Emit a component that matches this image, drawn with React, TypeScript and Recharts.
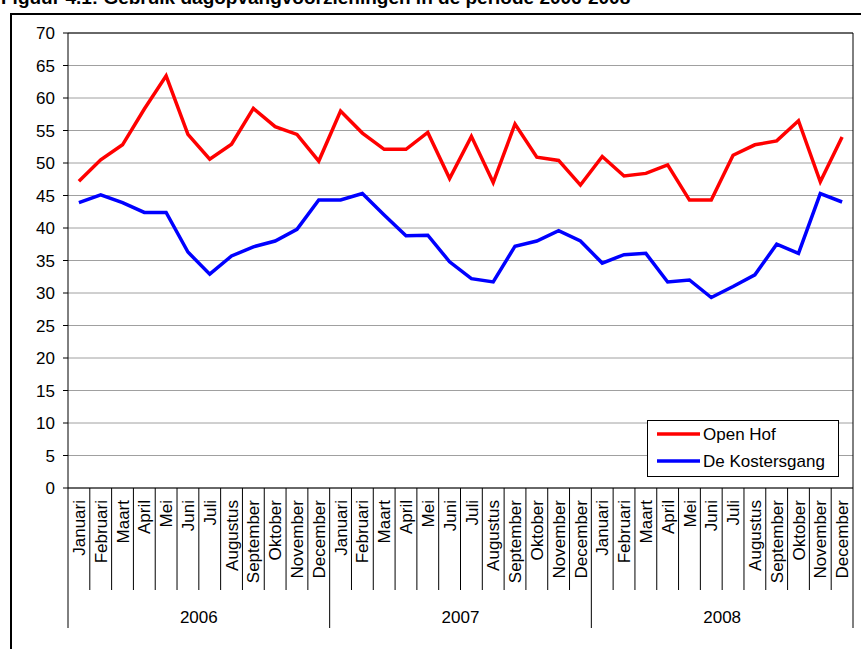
import { LineChart, Line, XAxis, YAxis, CartesianGrid, Legend, ReferenceLine } from "recharts";

const months = ["Januari", "Februari", "Maart", "April", "Mei", "Juni", "Juli", "Augustus", "September", "Oktober", "November", "December"];
const years = ["2006", "2007", "2008"];
const yTicks = [0, 5, 10, 15, 20, 25, 30, 35, 40, 45, 50, 55, 60, 65, 70];

const openHof = [
  47.2, 50.5, 52.8, 58.3, 63.4, 54.4, 50.6, 52.9, 58.4, 55.6, 54.4, 50.3,
  58.0, 54.6, 52.1, 52.1, 54.7, 47.6, 54.1, 47.0, 56.0, 50.9, 50.4, 46.6,
  51.0, 48.0, 48.4, 49.7, 44.3, 44.3, 51.2, 52.8, 53.4, 56.5, 47.1, 54.0,
];
const kostersgang = [
  43.9, 45.1, 43.9, 42.4, 42.4, 36.3, 32.9, 35.7, 37.1, 38.0, 39.8, 44.3,
  44.3, 45.3, 42.0, 38.8, 38.9, 34.8, 32.2, 31.7, 37.2, 38.0, 39.6, 38.0,
  34.6, 35.9, 36.1, 31.7, 32.0, 29.3, 31.0, 32.8, 37.5, 36.1, 45.3, 44.0,
];

const data = openHof.map((v, i) => ({ idx: i, openHof: v, kostersgang: kostersgang[i] }));
const xTicks = data.map((d) => d.idx);

const FONT = "Arial, 'Liberation Sans', sans-serif";
const PLOT_LEFT = 68;
const PLOT_RIGHT = 853;
const STEP = (PLOT_RIGHT - PLOT_LEFT) / data.length;

function MonthTick({ x, y, payload }: any) {
  const i = payload.value as number;
  const m = i % 12;
  const half = STEP / 2;
  return (
    <g>
      {i === 0 && <line x1={x - half} x2={x - half} y1={y} y2={y + 140} stroke="#000" />}
      <line x1={x + half} x2={x + half} y1={y} y2={y + (m === 11 ? 140 : 102)} stroke="#000" />
      <text
        x={x}
        y={y + 12}
        transform={`rotate(-90 ${x} ${y + 12})`}
        textAnchor="end"
        dy="0.36em"
        fontSize={17}
        fontFamily={FONT}
        fill="#000"
      >
        {months[m]}
      </text>
      {m === 6 && (
        <text x={x - half} y={y + 135} textAnchor="middle" fontSize={17} fontFamily={FONT} fill="#000">
          {years[Math.floor(i / 12)]}
        </text>
      )}
    </g>
  );
}

function LegendBox() {
  const rows = [
    { label: "Open Hof", color: "#ff0000" },
    { label: "De Kostersgang", color: "#0000ff" },
  ];
  return (
    <svg width={192} height={57} style={{ display: "block" }}>
      <rect x={0.5} y={0.5} width={191} height={56} fill="#fff" stroke="#000" />
      {rows.map((r, k) => (
        <g key={r.label}>
          <line x1={10} x2={53} y1={14 + k * 27} y2={14 + k * 27} stroke={r.color} strokeWidth={3.5} />
          <text x={56} y={14 + k * 27} dy="0.36em" fontSize={17} fontFamily={FONT} fill="#000">
            {r.label}
          </text>
        </g>
      ))}
    </svg>
  );
}

export default function App() {
  return (
    <div style={{ position: "absolute", left: 0, top: 0, width: 861, height: 649, overflow: "hidden", background: "#fff" }}>
      <div
        style={{
          position: "absolute",
          left: 1,
          top: -12,
          lineHeight: "19px",
          fontSize: 19,
          fontWeight: "bold",
          fontFamily: FONT,
          whiteSpace: "nowrap",
          color: "#000",
        }}
      >
        Figuur 4.1: Gebruik dagopvangvoorzieningen in de periode 2006-2008
      </div>
      <div
        style={{
          position: "absolute",
          left: 10,
          top: 13,
          width: 900,
          height: 700,
          borderLeft: "2px solid #000",
          borderTop: "2px solid #000",
        }}
      />
      <div style={{ position: "absolute", left: 0, top: 0 }}>
        <LineChart width={861} height={649} data={data} margin={{ top: 33, right: 8, bottom: 0, left: 0 }}>
          <CartesianGrid horizontal vertical={false} stroke="#a0a0a0" />
          <XAxis
            dataKey="idx"
            type="number"
            domain={[-0.5, 35.5]}
            ticks={xTicks}
            interval={0}
            height={161}
            tickSize={0}
            tickMargin={0}
            tickLine={false}
            axisLine={{ stroke: "#000" }}
            tick={<MonthTick />}
          />
          <YAxis
            domain={[0, 70]}
            ticks={yTicks}
            interval={0}
            width={68}
            tickSize={5}
            tickMargin={8}
            axisLine={{ stroke: "#000" }}
            tickLine={{ stroke: "#000" }}
            tick={{ fill: "#000", fontSize: 17, fontFamily: FONT }}
          />
          <ReferenceLine y={70} stroke="#000" />
          <ReferenceLine x={35.5} stroke="#000" />
          <Line dataKey="openHof" name="Open Hof" stroke="#ff0000" strokeWidth={3.5} dot={false} isAnimationActive={false} />
          <Line dataKey="kostersgang" name="De Kostersgang" stroke="#0000ff" strokeWidth={3.5} dot={false} isAnimationActive={false} />
          <Legend
            layout="vertical"
            align="center"
            verticalAlign="middle"
            content={<LegendBox />}
            wrapperStyle={{ left: 647, top: 420, width: 192, height: 57 }}
          />
        </LineChart>
      </div>
    </div>
  );
}
